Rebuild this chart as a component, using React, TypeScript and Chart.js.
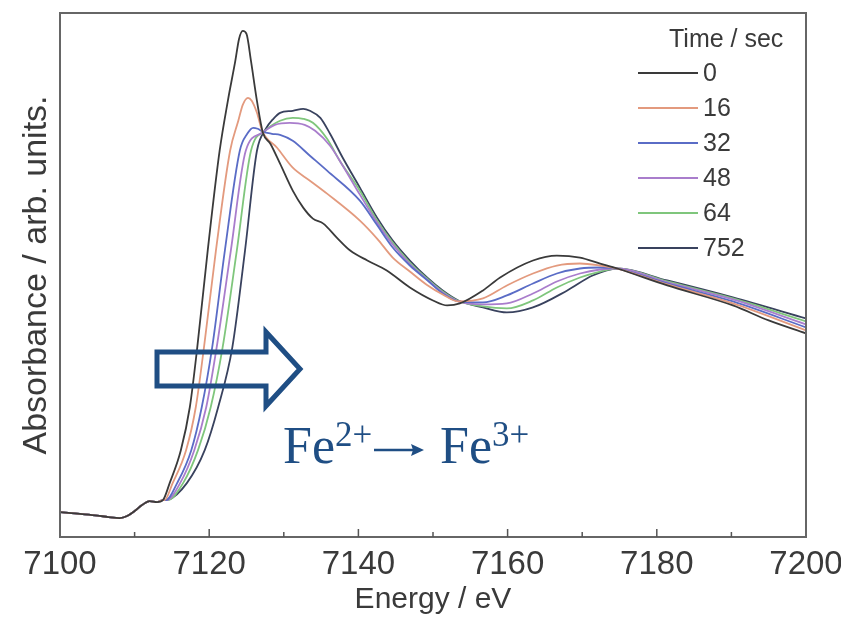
import React, { useEffect, useRef } from "react";
import { Chart, registerables } from "chart.js";

Chart.register(...registerables);

// ---- data (Energy in eV, absorbance in arb. units) ----
const seriesLabels = ["0", "16", "32", "48", "64", "752"];
const seriesColors = ["#3a3a3a", "#e39a7e", "#5a6cc6", "#a97dcc", "#7fc67c", "#39425e"];

const preEdgeE = [7100, 7101.5, 7103, 7105, 7106.5, 7108, 7109, 7110, 7111, 7112, 7113, 7113.8];
const preEdgeA = [0.1, 0.096, 0.092, 0.086, 0.08, 0.076, 0.084, 0.104, 0.128, 0.144, 0.14, 0.148];

const s0E = [7114.7, 7116.2, 7117.4, 7118.4, 7119.8, 7121.4, 7122.5, 7123.5, 7124.0, 7124.5, 7125.0, 7125.6, 7126.4, 7127.2, 7128.2, 7129.5, 7131.2, 7132.6, 7133.9, 7135.3, 7137.1, 7138.9, 7141.2, 7143.8, 7146.9, 7150.0, 7151.9, 7153.6, 7156.7, 7159.0, 7163.4, 7166.6, 7169.7, 7172.4, 7174.7, 7181.4, 7190.2, 7195, 7200];
const s0A = [0.216, 0.348, 0.52, 0.76, 1.148, 1.548, 1.748, 1.908, 1.996, 2.028, 2.016, 1.908, 1.748, 1.62, 1.576, 1.496, 1.388, 1.32, 1.276, 1.256, 1.2, 1.148, 1.108, 1.068, 1.0, 0.948, 0.928, 0.936, 0.988, 1.04, 1.108, 1.128, 1.12, 1.096, 1.076, 1.008, 0.928, 0.868, 0.816];

const s16E = [7114.0, 7115.1, 7116.9, 7118.2, 7119.3, 7120.9, 7122.8, 7123.9, 7124.5, 7125.2, 7125.7, 7126.4, 7127.1, 7129.1, 7131.2, 7133.5, 7135.8, 7140.2, 7142.5, 7144.6, 7146.9, 7149.2, 7151.3, 7153.4, 7156.7, 7159.9, 7163.4, 7166.6, 7169.7, 7172.4, 7174.7, 7181.4, 7190.2, 7200];
const s16A = [0.148, 0.216, 0.348, 0.52, 0.76, 1.148, 1.548, 1.668, 1.732, 1.76, 1.748, 1.7, 1.628, 1.56, 1.48, 1.428, 1.376, 1.268, 1.196, 1.12, 1.064, 1.01, 0.972, 0.944, 0.956, 1.008, 1.056, 1.088, 1.096, 1.088, 1.076, 1.012, 0.936, 0.828];

const s32E = [7114.2, 7115.7, 7117.6, 7119.0, 7120.4, 7122.1, 7124.1, 7125.1, 7125.9, 7126.5, 7127.2, 7128.4, 7129.5, 7131.2, 7133.5, 7135.8, 7140.2, 7142.5, 7144.6, 7146.9, 7149.2, 7151.3, 7153.4, 7156.7, 7159.9, 7163.4, 7166.6, 7169.7, 7172.4, 7174.7, 7181.4, 7190.2, 7200];
const s32A = [0.148, 0.216, 0.348, 0.52, 0.76, 1.148, 1.548, 1.616, 1.64, 1.636, 1.624, 1.616, 1.612, 1.588, 1.528, 1.468, 1.348, 1.25, 1.16, 1.088, 1.03, 0.976, 0.944, 0.94, 0.968, 1.016, 1.056, 1.076, 1.08, 1.076, 1.016, 0.944, 0.84];

const s48E = [7114.3, 7116.1, 7118.0, 7119.6, 7121.0, 7122.9, 7124.9, 7127.1, 7128.8, 7130.8, 7132.8, 7134.2, 7136.2, 7137.9, 7140.2, 7142.5, 7144.6, 7146.9, 7149.2, 7151.3, 7153.4, 7156.7, 7159.9, 7163.4, 7166.6, 7169.7, 7172.4, 7174.7, 7181.4, 7190.2, 7200];
const s48A = [0.148, 0.216, 0.348, 0.52, 0.76, 1.148, 1.548, 1.62, 1.652, 1.66, 1.652, 1.628, 1.568, 1.488, 1.372, 1.26, 1.172, 1.094, 1.032, 0.98, 0.944, 0.932, 0.936, 0.976, 1.024, 1.056, 1.072, 1.076, 1.02, 0.952, 0.852];

const s64E = [7114.4, 7116.5, 7118.5, 7120.2, 7121.8, 7123.7, 7125.6, 7127.5, 7129.5, 7131.2, 7132.6, 7133.9, 7135.8, 7137.5, 7140.2, 7142.5, 7144.6, 7146.9, 7149.2, 7151.3, 7153.4, 7156.7, 7159.9, 7163.4, 7166.6, 7169.7, 7172.4, 7174.7, 7181.4, 7190.2, 7200];
const s64A = [0.148, 0.216, 0.348, 0.52, 0.76, 1.148, 1.548, 1.628, 1.668, 1.68, 1.676, 1.66, 1.596, 1.508, 1.388, 1.268, 1.18, 1.1, 1.036, 0.984, 0.946, 0.924, 0.916, 0.948, 1.0, 1.04, 1.064, 1.076, 1.024, 0.956, 0.864];

const s752E = [7114.5, 7117.0, 7119.4, 7121.2, 7123.1, 7124.8, 7126.4, 7127.6, 7128.6, 7129.5, 7131.2, 7132.6, 7133.5, 7134.9, 7136.2, 7137.9, 7140.2, 7142.5, 7144.6, 7146.9, 7149.2, 7151.3, 7153.4, 7156.7, 7159.9, 7163.4, 7168.0, 7171.4, 7174.7, 7181.4, 7190.2, 7200];
const s752A = [0.15, 0.216, 0.348, 0.52, 0.76, 1.148, 1.548, 1.636, 1.676, 1.7, 1.708, 1.716, 1.708, 1.68, 1.616, 1.52, 1.4, 1.28, 1.188, 1.108, 1.04, 0.988, 0.948, 0.92, 0.9, 0.92, 0.988, 1.048, 1.076, 1.028, 0.96, 0.876];

const seriesE = [s0E, s16E, s32E, s48E, s64E, s752E];
const seriesA = [s0A, s16A, s32A, s48A, s64A, s752A];

const X_MIN = 7100;
const X_MAX = 7200;
const Y_MIN = 0;
const Y_MAX = 2.1;
const MAJOR_STEP = 20;
const MINOR_STEP = 10;

const SANS = '"Liberation Sans", Arial, Helvetica, sans-serif';
const SERIF = '"Liberation Serif", "Times New Roman", serif';
const TEXT = "#3a3a3a";
const NAVY = "#1f4e84";

function buildPoints(E: number[], A: number[]) {
  const pts = preEdgeE.map((e, i) => ({ x: e, y: preEdgeA[i] }));
  E.forEach((e, i) => pts.push({ x: e, y: A[i] }));
  return pts;
}

const overlay = {
  id: "overlay",
  afterDatasetsDraw(chart: any) {
    const { ctx, chartArea } = chart;
    const xs = chart.scales.x;
    ctx.save();
    // frame
    ctx.strokeStyle = "#666";
    ctx.lineWidth = 2;
    ctx.strokeRect(chartArea.left, chartArea.top, chartArea.right - chartArea.left, chartArea.bottom - chartArea.top);
    // inward ticks on bottom axis
    ctx.lineWidth = 1.5;
    ctx.strokeStyle = "#555";
    for (let v = X_MIN + MINOR_STEP; v < X_MAX; v += MINOR_STEP) {
      const px = xs.getPixelForValue(v);
      const len = (v - X_MIN) % MAJOR_STEP === 0 ? 8 : 5;
      ctx.beginPath();
      ctx.moveTo(px, chartArea.bottom);
      ctx.lineTo(px, chartArea.bottom - len);
      ctx.stroke();
    }
    // legend
    ctx.font = `25px ${SANS}`;
    ctx.fillStyle = TEXT;
    ctx.textBaseline = "middle";
    ctx.textAlign = "left";
    ctx.fillText("Time / sec", 669, 40);
    chart.data.datasets.forEach((ds: any, i: number) => {
      const y = 73 + i * 35;
      ctx.strokeStyle = ds.borderColor;
      ctx.lineWidth = 1.8;
      ctx.beginPath();
      ctx.moveTo(638, y);
      ctx.lineTo(698, y);
      ctx.stroke();
      ctx.fillStyle = TEXT;
      ctx.fillText(ds.label, 703, y + 1);
    });
    // hollow block arrow
    ctx.strokeStyle = NAVY;
    ctx.lineWidth = 5;
    ctx.lineJoin = "miter";
    ctx.beginPath();
    ctx.moveTo(157, 352);
    ctx.lineTo(266, 352);
    ctx.lineTo(266, 332);
    ctx.lineTo(300, 369);
    ctx.lineTo(266, 406);
    ctx.lineTo(266, 386);
    ctx.lineTo(157, 386);
    ctx.closePath();
    ctx.stroke();
    // Fe2+ -> Fe3+
    ctx.fillStyle = NAVY;
    ctx.textBaseline = "alphabetic";
    ctx.font = `52px ${SERIF}`;
    let x = 283;
    ctx.fillText("Fe", x, 463);
    x += ctx.measureText("Fe").width;
    ctx.font = `35px ${SERIF}`;
    ctx.fillText("2+", x, 446);
    // long arrow
    ctx.strokeStyle = NAVY;
    ctx.lineWidth = 2.5;
    ctx.beginPath();
    ctx.moveTo(374, 450);
    ctx.lineTo(418, 450);
    ctx.stroke();
    ctx.beginPath();
    ctx.moveTo(424, 450);
    ctx.lineTo(411, 444);
    ctx.lineTo(413, 450);
    ctx.lineTo(411, 456);
    ctx.closePath();
    ctx.fill();
    ctx.font = `52px ${SERIF}`;
    x = 440;
    ctx.fillText("Fe", x, 463);
    x += ctx.measureText("Fe").width;
    ctx.font = `35px ${SERIF}`;
    ctx.fillText("3+", x, 446);
    ctx.restore();
  },
};

export default function App() {
  const ref = useRef<HTMLCanvasElement>(null);
  useEffect(() => {
    document.body.style.margin = "0";
    const canvas = ref.current;
    if (!canvas) return;
    const datasets = seriesLabels.map((label, i) => ({
      label,
      data: buildPoints(seriesE[i], seriesA[i]),
      borderColor: seriesColors[i],
      backgroundColor: seriesColors[i],
      borderWidth: 1.8,
      pointRadius: 0,
      fill: false,
      cubicInterpolationMode: "monotone" as const,
    }));
    const chart = new Chart(canvas, {
      type: "line",
      data: { datasets },
      options: {
        animation: false,
        responsive: false,
        maintainAspectRatio: false,
        parsing: false,
        layout: { padding: { top: 13, right: 35, left: 0, bottom: 0 } },
        plugins: { legend: { display: false }, tooltip: { enabled: false } },
        scales: {
          x: {
            type: "linear",
            min: X_MIN,
            max: X_MAX,
            grid: { display: false, drawTicks: false },
            border: { display: true, color: "#666", width: 2 },
            ticks: {
              stepSize: MAJOR_STEP,
              color: TEXT,
              font: { family: SANS, size: 33 },
              padding: 8,
              maxRotation: 0,
              autoSkip: false,
              callback: (v: any) => String(v),
            },
            title: {
              display: true,
              text: "Energy / eV",
              color: TEXT,
              font: { family: SANS, size: 30 },
              padding: { top: 0, bottom: 1 },
            },
            afterFit: (s: any) => {
              s.height = 82;
              s.paddingLeft = 0;
              s.paddingRight = 0;
            },
          },
          y: {
            type: "linear",
            min: Y_MIN,
            max: Y_MAX,
            grid: { display: false, drawTicks: false },
            border: { display: true, color: "#666", width: 2 },
            ticks: { display: false },
            title: {
              display: true,
              text: "Absorbance / arb. units.",
              color: TEXT,
              font: { family: SANS, size: 34 },
              padding: { top: 16, bottom: 0 },
            },
            afterFit: (s: any) => {
              s.width = 60;
            },
          },
        },
      },
      plugins: [overlay],
    });
    return () => chart.destroy();
  }, []);
  return (
    <canvas
      ref={ref}
      width={841}
      height={619}
      style={{ display: "block", position: "absolute", left: 0, top: 0 }}
    />
  );
}
